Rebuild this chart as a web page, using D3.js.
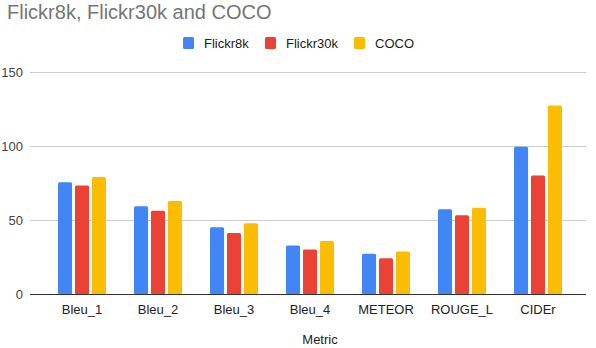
<!DOCTYPE html>
<html>
<head>
<meta charset="utf-8">
<script src="https://cdn.jsdelivr.net/npm/d3@7"></script>
<style>
  body { margin: 0; background: #fff; }
  text { font-family: Arial, "Liberation Sans", sans-serif; }
</style>
</head>
<body>
<div id="chart"></div>
<script>
// data
const metrics = ["Bleu_1", "Bleu_2", "Bleu_3", "Bleu_4", "METEOR", "ROUGE_L", "CIDEr"];
const seriesNames = ["Flickr8k", "Flickr30k", "COCO"];
const flickr8k = [75.7, 59.5, 45.3, 33.1, 27.4, 57.5, 99.6];
const flickr30k = [73.4, 56.5, 41.4, 30.4, 24.5, 53.5, 80.2];
const coco = [79.2, 63, 48, 36, 29, 58.5, 127.4];
const yTicks = [0, 50, 100, 150];
const colors = ["#4285f4", "#ea4335", "#fbbc04"];

const seriesValues = [flickr8k, flickr30k, coco];

const dimensions = {
  width: 596,
  height: 348,
  plotLeft: 30,
  plotRight: 586,
  top: 72,
  bottom: 294.5,
};

const svg = d3
  .select("#chart")
  .append("svg")
  .attr("width", dimensions.width)
  .attr("height", dimensions.height);

// scales
const xScale = d3.scaleBand().domain(metrics).range([44, 576]);
const innerScale = d3
  .scaleBand()
  .domain(seriesNames)
  .range([0, 48])
  .paddingInner(0.17);
const yScale = d3
  .scaleLinear()
  .domain([0, 150])
  .range([dimensions.bottom, dimensions.top]);

// gridlines
svg
  .append("g")
  .selectAll("line")
  .data(yTicks.filter((d) => d > 0))
  .join("line")
  .attr("x1", dimensions.plotLeft)
  .attr("x2", dimensions.plotRight)
  .attr("y1", (d) => Math.round(yScale(d)) + 0.5)
  .attr("y2", (d) => Math.round(yScale(d)) + 0.5)
  .attr("stroke", "#cccccc")
  .attr("stroke-width", 1);

// y labels
svg
  .append("g")
  .selectAll("text")
  .data(yTicks)
  .join("text")
  .attr("x", 23)
  .attr("y", (d) => yScale(d) + 4.5)
  .attr("text-anchor", "end")
  .attr("font-size", 13)
  .attr("fill", "#444")
  .text((d) => d);

// bars
const groups = svg
  .append("g")
  .selectAll("g")
  .data(metrics)
  .join("g")
  .attr("transform", (d) => `translate(${xScale(d) + (xScale.bandwidth() - 48) / 2}, 0)`);

groups
  .selectAll("rect")
  .data((m, i) => seriesNames.map((s, j) => ({ s, v: seriesValues[j][i], c: colors[j] })))
  .join("rect")
  .attr("x", (d) => innerScale(d.s))
  .attr("width", innerScale.bandwidth())
  .attr("y", (d) => yScale(d.v))
  .attr("height", (d) => yScale(0) - yScale(d.v))
  .attr("rx", 1.5)
  .attr("fill", (d) => d.c);

// baseline
svg
  .append("line")
  .attr("x1", dimensions.plotLeft)
  .attr("x2", dimensions.plotRight)
  .attr("y1", dimensions.bottom)
  .attr("y2", dimensions.bottom)
  .attr("stroke", "#333")
  .attr("stroke-width", 1);

// x labels
svg
  .append("g")
  .selectAll("text")
  .data(metrics)
  .join("text")
  .attr("x", (d) => xScale(d) + xScale.bandwidth() / 2)
  .attr("y", 314)
  .attr("text-anchor", "middle")
  .attr("font-size", 13)
  .attr("fill", "#222")
  .text((d) => d);

svg
  .append("text")
  .attr("x", 320)
  .attr("y", 344)
  .attr("text-anchor", "middle")
  .attr("font-size", 13)
  .attr("fill", "#222")
  .text("Metric");

// title
svg
  .append("text")
  .attr("x", 7)
  .attr("y", 19)
  .attr("font-size", 20)
  .attr("fill", "#757575")
  .text("Flickr8k, Flickr30k and COCO");

// legend
const legendX = [183, 265, 354];
const legend = svg
  .append("g")
  .selectAll("g")
  .data(seriesNames)
  .join("g")
  .attr("transform", (d, i) => `translate(${legendX[i]}, 37)`);

legend
  .append("rect")
  .attr("width", 11)
  .attr("height", 12)
  .attr("rx", 1.5)
  .attr("fill", (d, i) => colors[i]);

legend
  .append("text")
  .attr("x", 21)
  .attr("y", 10.5)
  .attr("font-size", 13)
  .attr("fill", "#222")
  .text((d) => d);
</script>
</body>
</html>
